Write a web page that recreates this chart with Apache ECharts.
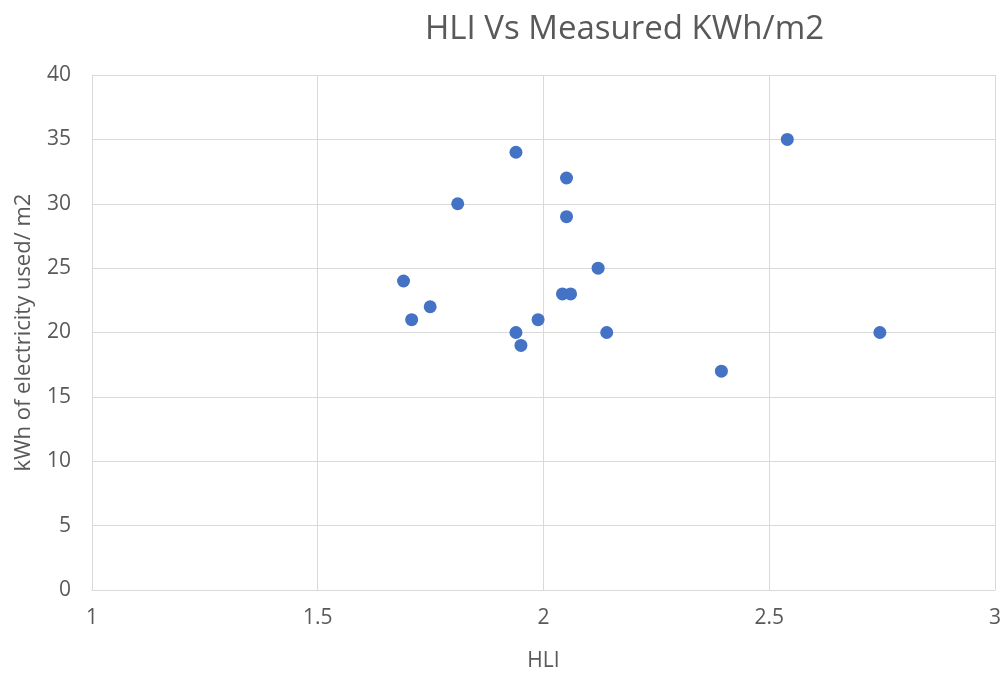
<!DOCTYPE html>
<html>
<head>
<meta charset="utf-8">
<script src="https://cdn.jsdelivr.net/npm/echarts@6/dist/echarts.min.js"></script>
<style>
  html, body { margin: 0; padding: 0; background: #fff; }
  #main { width: 1004px; height: 677px; }
</style>
</head>
<body>
<div id="main"></div>
<script>
// HLI values (x) and measured kWh/m2 (y)
var hli = [1.69, 1.708, 1.749, 1.81, 1.939, 1.939, 1.95, 1.988, 2.042, 2.06, 2.051, 2.051, 2.121, 2.14, 2.394, 2.54, 2.745];
var kwh = [24, 21, 22, 30, 34, 20, 19, 21, 23, 23, 32, 29, 25, 20, 17, 35, 20];
var xTicks = [1, 1.5, 2, 2.5, 3];
var yTicks = [0, 5, 10, 15, 20, 25, 30, 35, 40];

var chartDom = document.getElementById("main");
var myChart = echarts.init(chartDom);
var option;

var points = hli.map(function (x, i) {
  return [x, kwh[i]];
});

var textColor = "#595959";
var gridColor = "#d9d9d9";
var font = "'Open Sans', 'Noto Sans', sans-serif";

option = {
  animation: false,
  backgroundColor: "#fff",
  title: {
    text: "HLI Vs Measured KWh/m2",
    left: 420,
    top: 8,
    textStyle: {
      color: textColor,
      fontSize: 33,
      fontWeight: "normal",
      fontFamily: font,
    },
  },
  grid: {
    left: 92,
    right: 9,
    top: 75,
    bottom: 86,
  },
  xAxis: {
    type: "value",
    min: xTicks[0],
    max: xTicks[xTicks.length - 1],
    interval: 0.5,
    name: "HLI",
    nameLocation: "middle",
    nameGap: 61,
    nameTextStyle: { color: textColor, fontSize: 21, fontFamily: font },
    axisLine: { show: true, lineStyle: { color: gridColor, width: 1 } },
    axisTick: { show: false },
    axisLabel: { color: textColor, fontSize: 21, fontFamily: font, margin: 18 },
    splitLine: { show: true, lineStyle: { color: gridColor, width: 1 } },
  },
  yAxis: {
    type: "value",
    min: yTicks[0],
    max: yTicks[yTicks.length - 1],
    interval: 5,
    name: "kWh of electricity used/ m2",
    nameLocation: "middle",
    nameGap: 57,
    nameTextStyle: { color: textColor, fontSize: 22, fontFamily: font },
    axisLine: { show: true, lineStyle: { color: gridColor, width: 1 } },
    axisTick: { show: false },
    axisLabel: { color: textColor, fontSize: 21, fontFamily: font, margin: 21 },
    splitLine: { show: true, lineStyle: { color: gridColor, width: 1 } },
  },
  series: [
    {
      type: "scatter",
      data: points,
      symbol: "circle",
      symbolSize: 13,
      itemStyle: { color: "#4472C4", opacity: 1 },
    },
  ],
};

option && myChart.setOption(option);
</script>
</body>
</html>
